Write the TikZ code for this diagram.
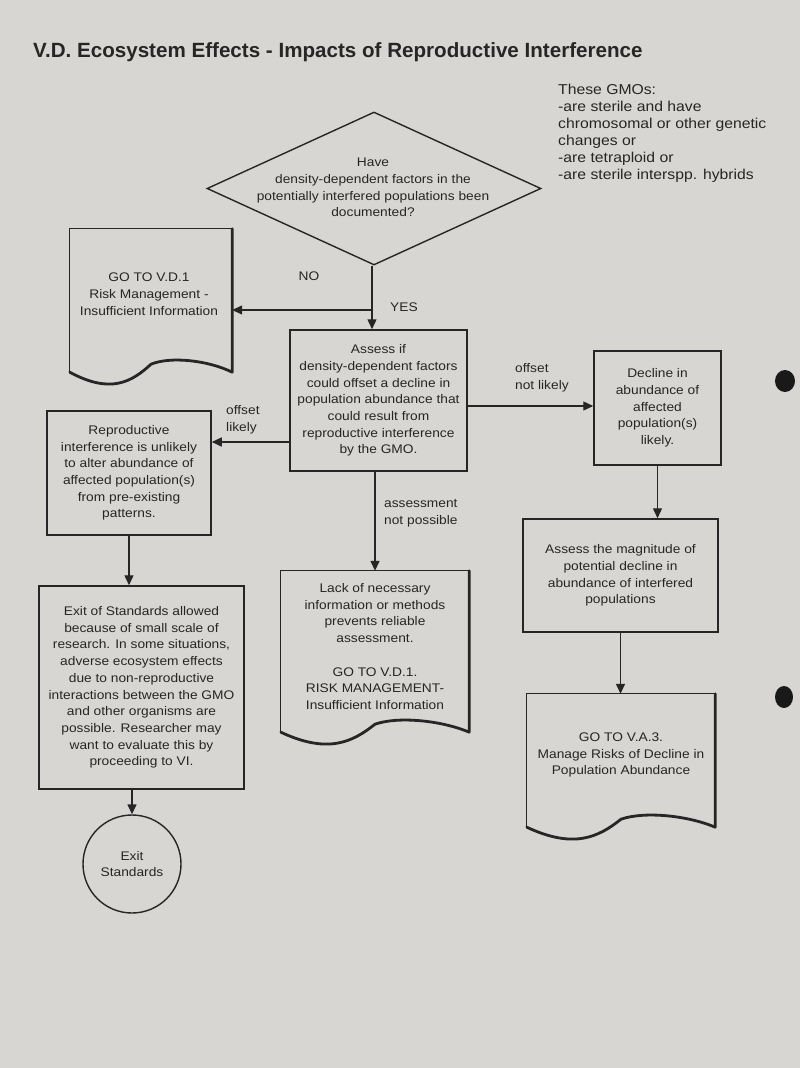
\documentclass[tikz,border=0pt]{standalone}
\usepackage{fontspec}
\setmainfont{Liberation Sans}
\newfontfamily\bodyfont[FakeStretch=1.1]{Liberation Sans}
\usetikzlibrary{arrows.meta,shapes.geometric,calc}
\definecolor{paper}{RGB}{216,214,210}
\definecolor{ink}{RGB}{38,38,38}
\newcommand\docshape[1]{%
  \draw[ink,line width=1.3pt] (#1.south west) -- (#1.north west) -- (#1.north east);
  \draw[ink,line width=2.8pt,line join=round,line cap=round]
    let \p1=(#1.south west), \p2=(#1.south east), \n1={\x2-\x1} in
    (#1.north east) -- (\x2,\y2)
    .. controls (\x1+0.85*\n1,\y1+12pt) and (\x1+0.62*\n1,\y1+16pt) .. (\x1+0.5*\n1,\y1+8pt)
    .. controls (\x1+0.38*\n1,\y1-10pt) and (\x1+0.25*\n1,\y1-22pt) .. (\x1,\y1);
}
\begin{document}
\begin{tikzpicture}[x=1pt,y=-1pt,
  txt/.style={align=center,inner sep=0pt,font=\bodyfont\fontsize{12.5}{16.7}\selectfont,text=ink},
  ltxt/.style={align=left,inner sep=0pt,font=\bodyfont\fontsize{12.5}{16.7}\selectfont,text=ink},
  box/.style={txt,draw=ink,line width=1.5pt},
  ln/.style={draw=ink,line width=1.4pt},
  arr/.style={ln,-{Triangle[length=10pt,width=9pt]}}]
\fill[paper] (0,0) rectangle (800,1068);
\useasboundingbox (0,0) rectangle (800,1068);

% title
\node[anchor=base west,inner sep=0pt,text=ink,font=\fontsize{20.6}{25}\selectfont\bfseries] (title) at (33,57)
  {V.D. Ecosystem Effects - Impacts of Reproductive Interference};

% side note
\node[ltxt,anchor=west,font=\bodyfont\fontsize{14.3}{17}\selectfont] (gmo) at (558,133)
  {These GMOs:\\-are sterile and have\\chromosomal or other genetic\\changes or\\-are tetraploid or\\-are sterile interspp. hybrids};

% diamond
\node[diamond,draw=ink,line width=1.4pt,minimum width=334,minimum height=153,inner sep=0pt] (dia) at (374,188.5) {};
\node[txt] (diat) at (373,187.5) {Have\\density-dependent factors in the\\potentially interfered populations been\\documented?};

% doc 1
\node[minimum width=162,minimum height=143,inner sep=0pt] (doc1) at (151,300.5) {};
\docshape{doc1}
\node[txt] (doc1t) at (149,294) {GO TO V.D.1\\Risk Management -\\Insufficient Information};

% assess box
\node[box,minimum width=177,minimum height=141] (assess) at (378.5,400.5)
  {Assess if\\density-dependent factors\\could offset a decline in\\population abundance that\\could result from\\reproductive interference\\by the GMO.};

% reproductive box
\node[box,minimum width=164,minimum height=124] (repro) at (129,473)
  {Reproductive\\interference is unlikely\\to alter abundance of\\affected population(s)\\from pre-existing\\patterns.};

% decline box
\node[box,minimum width=127,minimum height=114] (decline) at (657.5,408)
  {Decline in\\abundance of\\affected\\population(s)\\likely.};

% magnitude box
\node[box,minimum width=195,minimum height=113] (mag) at (620.5,575.5)
  {Assess the magnitude of\\potential decline in\\abundance of interfered\\populations};

% lack doc
\node[minimum width=188,minimum height=161,inner sep=0pt] (lack) at (375,651.5) {};
\docshape{lack}
\node[txt] (lackt) at (375,646.5) {Lack of necessary\\information or methods\\prevents reliable\\assessment.\\[16.7pt]GO TO V.D.1.\\RISK MANAGEMENT-\\Insufficient Information};

% doc 3
\node[minimum width=188,minimum height=133,inner sep=0pt] (doc3) at (621,760.5) {};
\docshape{doc3}
\node[txt] (doc3t) at (621,755) {GO TO V.A.3.\\Manage Risks of Decline in\\Population Abundance};

% exit box
\node[box,minimum width=205,minimum height=203] (exit) at (141.5,687.5)
  {Exit of Standards allowed\\because of small scale of\\research. In some situations,\\adverse ecosystem effects\\due to non-reproductive\\interactions between the GMO\\and other organisms are\\possible. Researcher may\\want to evaluate this by\\proceeding to VI.};

% terminal circle
\node[txt,circle,draw=ink,line width=1.4pt,minimum size=98] (circ) at (132,864) {Exit\\Standards};

% connectors
\coordinate (j1) at (372,310);
\draw[arr] (dia.south -| j1) -- (j1 |- assess.north);
\draw[arr] (j1) -- (j1 -| doc1.east);
\draw[arr] ([yshift=-41.5pt]assess.west) -- ([yshift=-41.5pt]assess.west -| repro.east);
\draw[arr] ([yshift=-5.5pt]assess.east) -- ([yshift=-5.5pt]assess.east -| decline.west);
\draw[arr] (assess.south -| lack.north) -- (lack.north);
\draw[arr] (decline.south) -- (decline.south |- mag.north);
\draw[arr] (mag.south) -- (mag.south |- doc3.north);
\draw[arr] (repro.south) -- (repro.south |- exit.north);
\draw[arr] (circ.north |- exit.south) -- (circ.north);

% connector labels
\node[txt] (no) at (309,276) {NO};
\node[txt] (yes) at (404,307) {YES};
\node[ltxt,anchor=west] (offl) at (226,419.5) {offset\\likely};
\node[ltxt,anchor=west] (offnl) at (515,378) {offset\\not likely};
\node[ltxt,anchor=west] (anp) at (384,513) {assessment\\not possible};

% punched holes of the sheet
\fill[black!90] (785,381) ellipse (10 and 11);
\fill[black!90] (784,697) ellipse (9 and 11);
\end{tikzpicture}
\end{document}
